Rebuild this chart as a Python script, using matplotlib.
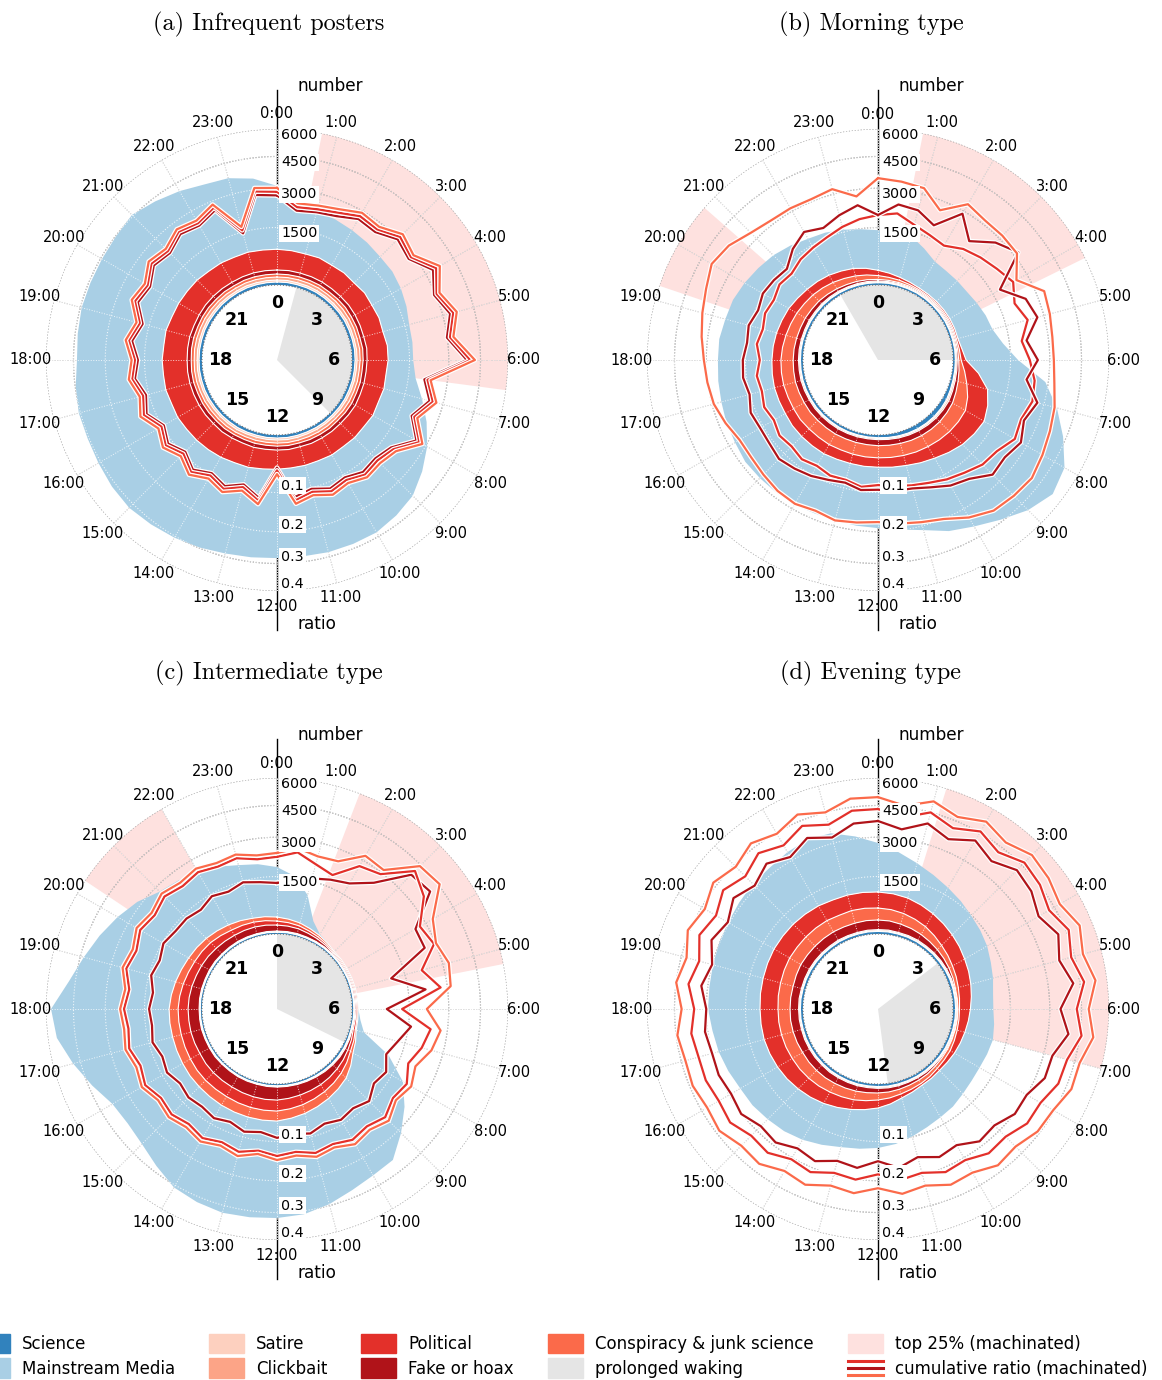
import numpy as np
import matplotlib.pyplot as plt
import matplotlib.patheffects as pe
from matplotlib.patches import Patch
from matplotlib.lines import Line2D
from matplotlib.legend_handler import HandlerBase

# half-hour bins over the day
hours = np.arange(48) * 0.5

# ---------------- (a) Infrequent posters ----------------
sci_a = [58, 60, 57, 59, 61, 58, 56, 59, 60, 57, 58, 62, 59, 57, 60, 58, 61, 59, 57, 60, 58, 56, 59, 61,
         58, 60, 57, 59, 62, 58, 60, 57, 59, 61, 58, 60, 57, 59, 58, 61, 59, 57, 60, 58, 59, 61, 58, 57]
sat_a = [39, 41, 38, 40, 37, 39, 41, 38, 40, 39, 37, 40, 41, 38, 39, 40, 38, 41, 39, 37, 40, 38, 39, 41,
         40, 38, 39, 37, 40, 41, 38, 39, 40, 38, 41, 39, 37, 40, 39, 38, 41, 40, 38, 39, 37, 40, 39, 41]
click_a = [62, 60, 64, 61, 63, 59, 62, 65, 60, 63, 61, 64, 62, 60, 63, 61, 65, 62, 59, 63, 61, 64, 60, 62,
           63, 61, 65, 62, 60, 64, 61, 63, 62, 60, 64, 62, 61, 63, 65, 60, 62, 64, 61, 63, 60, 62, 64, 61]
consp_a = [64, 62, 66, 63, 65, 61, 64, 67, 62, 65, 63, 66, 64, 62, 65, 63, 67, 64, 61, 65, 63, 66, 62, 64,
           65, 63, 67, 64, 62, 66, 63, 65, 64, 62, 66, 64, 63, 65, 67, 62, 64, 66, 63, 65, 62, 64, 66, 63]
fake_a = [88, 92, 85, 90, 87, 91, 86, 89, 93, 86, 88, 91, 87, 90, 85, 89, 92, 87, 90, 86, 88, 91, 85, 89,
          87, 90, 92, 86, 89, 91, 87, 90, 88, 92, 86, 89, 91, 87, 90, 88, 85, 89, 92, 87, 90, 86, 89, 91]
pol_a = [524, 507, 498, 515, 486, 503, 478, 506, 488, 514, 497, 526, 533, 505, 522, 496, 513, 487, 503, 476,
         494, 468, 483, 465, 482, 498, 524, 537, 565, 576, 604, 607, 634, 616, 645, 627, 642, 616, 633, 606,
         603, 585, 584, 556, 563, 537, 544, 526]
mm_a = [2268, 1571, 1464, 1377, 1321, 1236, 1182, 1126, 1063, 937, 842, 788, 778, 937, 1291, 1782,
        2235, 2702, 3116, 3332, 3470, 3490, 3480, 3441, 3431, 3460, 3491, 3623, 3705, 3789, 3873, 3811,
        3687, 3645, 3625, 3533, 3371, 3440, 3482, 3502, 3512, 3573, 3685, 3451, 3202, 2980, 2885, 2662]
rf_a = [0.180, 0.143, 0.149, 0.156, 0.175, 0.171, 0.197, 0.184, 0.225, 0.195, 0.222, 0.199,
        0.255, 0.138, 0.162, 0.131, 0.170, 0.126, 0.115, 0.120, 0.107, 0.115, 0.102, 0.113,
        0.050, 0.115, 0.092, 0.109, 0.096, 0.113, 0.094, 0.111, 0.096, 0.120, 0.107, 0.125,
        0.115, 0.132, 0.115, 0.143, 0.133, 0.155, 0.145, 0.164, 0.155, 0.173, 0.097, 0.185]
rp_a = [0.190, 0.152, 0.157, 0.166, 0.184, 0.180, 0.207, 0.192, 0.236, 0.203, 0.232, 0.208,
        0.266, 0.146, 0.171, 0.138, 0.179, 0.133, 0.122, 0.128, 0.114, 0.122, 0.109, 0.121,
        0.055, 0.122, 0.098, 0.116, 0.102, 0.120, 0.100, 0.118, 0.102, 0.127, 0.114, 0.132,
        0.122, 0.140, 0.122, 0.151, 0.140, 0.163, 0.152, 0.172, 0.162, 0.181, 0.104, 0.195]
rc_a = [0.201, 0.162, 0.167, 0.176, 0.195, 0.189, 0.218, 0.201, 0.249, 0.212, 0.243, 0.218,
        0.281, 0.154, 0.181, 0.146, 0.189, 0.141, 0.131, 0.136, 0.122, 0.131, 0.117, 0.129,
        0.062, 0.130, 0.106, 0.124, 0.110, 0.128, 0.108, 0.126, 0.110, 0.136, 0.122, 0.140,
        0.130, 0.148, 0.130, 0.160, 0.148, 0.172, 0.160, 0.180, 0.170, 0.190, 0.112, 0.205]
waking_a = (1.0, 9.0)
top_a = [(0.75, 6.5)]

# ---------------- (b) Morning type ----------------
sci_b = [44, 46, 45, 44, 46, 45, 44, 45, 46, 45, 44, 46, 45, 47, 50, 62, 80, 86, 90, 88, 85, 78, 70, 60,
         52, 50, 49, 51, 50, 48, 50, 51, 49, 50, 52, 50, 49, 51, 50, 48, 50, 49, 51, 50, 48, 47, 46, 45]
sat_b = [15, 14, 15, 16, 15, 14, 15, 15, 16, 15, 14, 15, 16, 18, 20, 22, 24, 23, 22, 21, 20, 19, 18, 17,
         17, 16, 17, 16, 17, 16, 17, 17, 16, 17, 16, 16, 17, 16, 16, 15, 16, 15, 16, 15, 15, 14, 15, 15]
click_b = [20, 19, 21, 20, 19, 20, 21, 19, 20, 21, 20, 19, 21, 23, 26, 28, 30, 29, 28, 27, 25, 24, 23, 22,
           22, 21, 22, 21, 22, 23, 21, 22, 21, 22, 23, 21, 22, 21, 20, 21, 22, 20, 21, 20, 21, 19, 20, 21]
fake_b = [30, 25, 20, 20, 21, 19, 20, 20, 21, 20, 20, 24, 30, 45, 60, 75, 90, 100, 110, 116, 120, 122, 120, 123,
          125, 122, 120, 118, 121, 120, 119, 122, 120, 118, 120, 115, 110, 106, 100, 95, 90, 85, 80, 70, 60, 52, 45, 37]
consp_b = [80, 62, 50, 35, 25, 24, 25, 26, 25, 24, 25, 35, 50, 120, 200, 290, 350, 345, 330, 315, 300, 295, 290, 285,
           280, 284, 280, 276, 282, 279, 280, 285, 281, 277, 280, 283, 280, 265, 250, 236, 220, 205, 190, 176, 160, 140, 120, 100]
pol_b = [116, 90, 60, 45, 32, 30, 28, 30, 29, 31, 30, 55, 106, 330, 553, 590, 609, 560, 508, 430, 358, 310, 271, 255,
         242, 245, 247, 262, 274, 276, 274, 260, 247, 250, 247, 238, 230, 238, 244, 236, 231, 212, 195, 198, 195, 186, 177, 150]
mm_b = [1106, 1135, 1151, 943, 760, 722, 717, 717, 773, 845, 905, 1098, 1491, 2290, 2697, 3271,
        3939, 4246, 3869, 3391, 3028, 2755, 2400, 2208, 2108, 2066, 2025, 2012, 2039, 2039, 2039, 2053,
        1983, 1942, 1860, 1833, 1806, 1819, 1752, 1739, 1648, 1571, 1496, 1374, 1257, 1224, 1157, 1113]
rf_b = [0.129, 0.159, 0.154, 0.131, 0.192, 0.141, 0.184, 0.215, 0.119, 0.167, 0.181, 0.141,
        0.167, 0.141, 0.181, 0.162, 0.181, 0.167, 0.173, 0.141, 0.129, 0.112, 0.101, 0.099,
        0.094, 0.097, 0.088, 0.094, 0.103, 0.110, 0.117, 0.110, 0.108, 0.112, 0.101, 0.108,
        0.106, 0.099, 0.103, 0.094, 0.101, 0.097, 0.092, 0.117, 0.136, 0.124, 0.141, 0.157]
rp_b = [0.129, 0.136, 0.117, 0.106, 0.099, 0.117, 0.129, 0.141, 0.157, 0.136, 0.154, 0.129,
        0.146, 0.162, 0.167, 0.154, 0.162, 0.141, 0.136, 0.122, 0.112, 0.101, 0.094, 0.088,
        0.084, 0.090, 0.082, 0.084, 0.078, 0.084, 0.078, 0.082, 0.074, 0.080, 0.074, 0.078,
        0.070, 0.078, 0.072, 0.078, 0.074, 0.082, 0.078, 0.088, 0.094, 0.101, 0.112, 0.122]
rc_b = [0.230, 0.224, 0.218, 0.173, 0.224, 0.212, 0.212, 0.210, 0.167, 0.224, 0.218, 0.212,
        0.212, 0.218, 0.233, 0.243, 0.255, 0.268, 0.262, 0.255, 0.230, 0.201, 0.189, 0.181,
        0.173, 0.178, 0.184, 0.176, 0.184, 0.181, 0.173, 0.167, 0.167, 0.181, 0.195, 0.201,
        0.207, 0.218, 0.230, 0.243, 0.262, 0.249, 0.224, 0.212, 0.210, 0.207, 0.215, 0.181]
waking_b = (22.0, 30.0)
top_b = [(0.75, 4.25), (19.25, 20.75)]

# ---------------- (c) Intermediate type ----------------
sci_c = [34, 36, 35, 33, 35, 36, 34, 35, 33, 36, 35, 34, 36, 35, 34, 40, 44, 46, 45, 43, 40, 38, 37, 36,
         35, 36, 34, 35, 36, 34, 35, 37, 35, 34, 36, 35, 34, 36, 35, 33, 35, 36, 34, 35, 36, 34, 35, 36]
sat_c = [10, 11, 10, 9, 10, 11, 10, 10, 9, 10, 11, 10, 10, 9, 10, 12, 13, 14, 13, 12, 11, 11, 10, 10,
         11, 10, 10, 11, 10, 9, 10, 11, 10, 10, 11, 10, 9, 10, 11, 10, 10, 11, 10, 9, 10, 11, 10, 10]
click_c = [13, 12, 14, 13, 12, 13, 14, 12, 13, 14, 13, 12, 13, 14, 13, 16, 18, 19, 18, 17, 15, 14, 14, 13,
           14, 13, 12, 13, 14, 13, 12, 14, 13, 13, 14, 12, 13, 14, 13, 12, 14, 13, 12, 13, 14, 13, 12, 13]
fake_c = [122, 112, 101, 80, 60, 40, 20, 21, 20, 19, 20, 21, 20, 19, 20, 40, 60, 90, 122, 155, 186, 208, 231, 255,
          276, 278, 276, 264, 253, 255, 253, 242, 231, 233, 231, 229, 231, 220, 208, 197, 186, 175, 165, 154, 143, 145, 143, 133]
pol_c = [86, 75, 64, 52, 41, 30, 20, 21, 20, 19, 20, 21, 20, 30, 41, 52, 62, 96, 131, 157, 183, 210, 236, 252,
         267, 265, 267, 266, 264, 262, 264, 263, 261, 248, 236, 238, 236, 223, 210, 196, 183, 182, 181, 157, 133, 121, 110, 98]
consp_c = [91, 78, 66, 54, 42, 31, 21, 22, 21, 20, 21, 22, 21, 20, 20, 42, 64, 115, 165, 182, 199, 216, 234, 251,
           269, 270, 269, 268, 267, 253, 239, 238, 236, 235, 234, 236, 234, 218, 203, 188, 174, 160, 146, 144, 142, 118, 93, 92]
mm_c = [1470, 1230, 754, 187, 22, 9, 5, 4, 4, 5, 4, 4, 5, 55, 173, 923,
        1692, 2161, 2666, 3280, 3300, 3432, 3663, 3864, 3913, 3966, 4019, 3928, 3785, 3393, 3064, 2935,
        3044, 3549, 4130, 4729, 4954, 4116, 3642, 3286, 2947, 2611, 2207, 2079, 1955, 1834, 1679, 1592]
rf_c = [0.086, 0.095, 0.106, 0.117, 0.129, 0.165, 0.255, 0.265, 0.167, 0.167, 0.070, 0.141,
        0.054, 0.106, 0.084, 0.070, 0.086, 0.078, 0.095, 0.084, 0.090, 0.082, 0.092, 0.086,
        0.092, 0.082, 0.088, 0.078, 0.086, 0.080, 0.084, 0.078, 0.088, 0.082, 0.092, 0.086,
        0.090, 0.084, 0.095, 0.088, 0.097, 0.090, 0.090, 0.084, 0.095, 0.088, 0.097, 0.090]
rp_c = [0.147, 0.162, 0.141, 0.129, 0.181, 0.195, 0.272, 0.240, 0.181, 0.195, 0.141, 0.181,
        0.084, 0.154, 0.141, 0.122, 0.141, 0.132, 0.149, 0.136, 0.144, 0.132, 0.139, 0.127,
        0.134, 0.124, 0.136, 0.127, 0.139, 0.129, 0.139, 0.132, 0.147, 0.136, 0.149, 0.141,
        0.149, 0.139, 0.157, 0.147, 0.162, 0.152, 0.165, 0.154, 0.162, 0.152, 0.157, 0.144]
rc_c = [0.157, 0.173, 0.162, 0.167, 0.215, 0.210, 0.295, 0.305, 0.224, 0.201, 0.218, 0.210,
        0.141, 0.181, 0.167, 0.141, 0.154, 0.141, 0.162, 0.147, 0.157, 0.141, 0.149, 0.136,
        0.144, 0.132, 0.147, 0.136, 0.149, 0.139, 0.149, 0.141, 0.157, 0.147, 0.159, 0.152,
        0.159, 0.149, 0.167, 0.157, 0.173, 0.162, 0.176, 0.165, 0.173, 0.162, 0.167, 0.154]
waking_c = (0.0, 7.75)
top_c = [(1.4, 5.25), (20.25, 22.0)]

# ---------------- (d) Evening type ----------------
sci_d = [50, 52, 49, 51, 50, 48, 51, 49, 50, 52, 50, 49, 51, 50, 48, 50, 52, 51, 49, 50, 51, 49, 50, 52,
         50, 48, 51, 50, 49, 52, 50, 51, 49, 50, 48, 51, 50, 52, 49, 50, 51, 49, 50, 48, 51, 50, 49, 52]
sat_d = [15, 16, 14, 15, 16, 15, 14, 15, 16, 15, 14, 15, 16, 15, 15, 14, 16, 15, 15, 16, 14, 15, 16, 15,
         15, 14, 16, 15, 15, 16, 14, 15, 15, 16, 15, 14, 15, 16, 15, 15, 14, 16, 15, 15, 16, 14, 15, 15]
click_d = [20, 21, 19, 20, 21, 20, 19, 21, 20, 19, 21, 20, 20, 19, 21, 20, 21, 19, 20, 21, 20, 19, 20, 21,
           20, 21, 19, 20, 21, 20, 19, 20, 21, 20, 19, 21, 20, 21, 19, 20, 21, 20, 19, 20, 21, 20, 19, 20]
fake_d = [204, 195, 181, 160, 138, 117, 95, 74, 53, 34, 15, 12, 10, 11, 12, 14, 15, 24, 33, 43, 53, 63, 74, 85,
          95, 106, 116, 127, 138, 148, 159, 160, 159, 170, 181, 183, 181, 178, 181, 192, 204, 201, 204, 206, 204, 202, 204, 205]
consp_d = [286, 272, 259, 231, 204, 168, 131, 108, 85, 73, 62, 46, 31, 36, 41, 52, 62, 60, 62, 74, 85, 96, 107, 131,
           154, 179, 203, 215, 228, 242, 256, 270, 281, 283, 284, 282, 284, 297, 309, 311, 312, 310, 312, 314, 312, 300, 312, 298]
pol_d = [439, 434, 430, 408, 387, 377, 368, 348, 327, 310, 292, 265, 239, 206, 173, 140, 107, 85, 64, 52, 43, 67, 91, 141,
         191, 220, 248, 292, 335, 366, 398, 430, 459, 476, 493, 490, 493, 496, 498, 500, 502, 505, 502, 487, 472, 457, 442, 440]
mm_d = [1743, 1446, 1204, 1051, 943, 873, 804, 770, 738, 664, 622, 579, 598, 680, 762, 755,
        748, 788, 859, 940, 991, 1042, 1126, 1178, 1196, 1202, 1211, 1289, 1373, 1432, 1454, 1491,
        1487, 1578, 1672, 1755, 1882, 1867, 1895, 1923, 1952, 2039, 2128, 2187, 2338, 2490, 2413, 2070]
rf_d = [0.249, 0.228, 0.262, 0.236, 0.270, 0.244, 0.276, 0.266, 0.241, 0.272, 0.248, 0.278,
        0.232, 0.262, 0.226, 0.226, 0.200, 0.202, 0.180, 0.186, 0.160, 0.168, 0.150, 0.168,
        0.147, 0.168, 0.160, 0.180, 0.170, 0.190, 0.183, 0.202, 0.194, 0.202, 0.200, 0.208,
        0.200, 0.219, 0.200, 0.225, 0.205, 0.231, 0.208, 0.234, 0.211, 0.240, 0.217, 0.246]
rp_d = [0.288, 0.266, 0.300, 0.274, 0.305, 0.280, 0.312, 0.302, 0.280, 0.310, 0.288, 0.315,
        0.284, 0.306, 0.274, 0.272, 0.248, 0.249, 0.226, 0.230, 0.208, 0.214, 0.194, 0.202,
        0.182, 0.201, 0.194, 0.214, 0.205, 0.228, 0.222, 0.244, 0.236, 0.244, 0.242, 0.250,
        0.236, 0.259, 0.240, 0.266, 0.246, 0.272, 0.248, 0.276, 0.252, 0.282, 0.258, 0.288]
rc_d = [0.329, 0.305, 0.340, 0.315, 0.345, 0.322, 0.350, 0.340, 0.322, 0.352, 0.330, 0.356,
        0.325, 0.348, 0.318, 0.320, 0.296, 0.292, 0.270, 0.278, 0.252, 0.256, 0.233, 0.244,
        0.222, 0.242, 0.233, 0.256, 0.246, 0.272, 0.266, 0.288, 0.279, 0.290, 0.286, 0.296,
        0.276, 0.300, 0.282, 0.308, 0.288, 0.314, 0.292, 0.318, 0.296, 0.324, 0.300, 0.330]
waking_d = (3.5, 11.5)
top_d = [(1.15, 7.0)]

num_ticks = [1500, 3000, 4500, 6000]
ratio_ticks = [0.1, 0.2, 0.3, 0.4]

C = {'sci': '#3182bd', 'mm': '#a9cfe5', 'sat': '#fdd0bf', 'click': '#fca487',
     'pol': '#e3302a', 'fake': '#b01319', 'consp': '#fb6a4a'}
WAKE = '#e5e5e5'
TOP = '#fee1df'

# area-true radial scale: r^2 grows linearly with the count, zero sits on the clock face
N0 = 707.0
def rad(n):
    return np.sqrt(np.asarray(n, dtype=float) + N0)

R0 = rad(0)
RMAX = rad(6000)
unit = RMAX / 231.0      # radial units per pixel


def ratio_r(q):
    return rad(np.asarray(q) * 15000)


def draw_panel(ax, layers, order, lines, waking, top):
    ax.set_theta_zero_location('N')
    ax.set_theta_direction(-1)
    ax.set_ylim(0, RMAX)
    ax.set_xticks([])
    ax.set_yticks([])
    ax.grid(False)
    ax.spines['polar'].set_visible(False)

    th = np.r_[hours, 24.0] * np.pi / 12
    full = np.linspace(0, 2 * np.pi, 400)

    # vertical scale axis
    for a in (0, np.pi):
        ax.plot([a, a], [R0, 270 * unit], color='k', lw=1.0, zorder=0.5, clip_on=False)

    for h0, h1 in top:
        t = np.linspace(h0, h1, 60) * np.pi / 12
        ax.fill(np.r_[t, t[::-1]], np.r_[np.full(60, RMAX), np.full(60, R0)],
                color=TOP, lw=0, zorder=1)

    # grid below the areas
    for v in num_ticks:
        ax.plot(full, np.full_like(full, rad(v)), ls=':', color='0.3', lw=0.8, zorder=1.2)
    for h in range(24):
        ax.plot([h * np.pi / 12] * 2, [R0, RMAX], ls=':', color='0.6', lw=0.7, zorder=1.2)

    cum = np.zeros(len(hours))
    for key in order:
        lo = np.r_[cum, cum[0]]
        cum = cum + np.asarray(layers[key])
        hi = np.r_[cum, cum[0]]
        ax.fill(np.r_[th, th[::-1]], np.r_[rad(hi), rad(lo)[::-1]],
                color=C[key], lw=0, zorder=2)
        if key != 'mm':
            ax.plot(th, rad(hi), color='white', lw=0.8, zorder=2.1)

    # grid repeated on top of the areas
    for v in num_ticks:
        ax.plot(full, np.full_like(full, rad(v)), ls=':', color='white', lw=0.8,
                alpha=0.8, zorder=2.2)
    for h in range(24):
        ax.plot([h * np.pi / 12] * 2, [R0, RMAX], ls=':', color='white', lw=0.7,
                alpha=0.8, zorder=2.2)

    for key, q in lines:
        ax.plot(th, ratio_r(np.r_[q, q[0]]), color=C[key], lw=1.6, zorder=3,
                path_effects=[pe.Stroke(linewidth=3.4, foreground='white'), pe.Normal()])

    # clock face
    ax.fill(full, np.full_like(full, R0), color='white', lw=0, zorder=4)
    w0, w1 = waking
    t = np.linspace(w0, w1, 80) * np.pi / 12
    ax.fill(np.r_[t[0], t, t[-1]], np.r_[0, np.full(80, R0), 0], color=WAKE, lw=0, zorder=4.1)
    ax.plot(full, np.full_like(full, R0), ls=':', color='0.45', lw=0.8, zorder=4.5)
    for h in range(0, 24, 3):
        ax.text(h * np.pi / 12, 57 * unit, str(h), ha='center', va='center',
                fontsize=12.5, fontweight='bold', zorder=5)

    for h in range(24):
        ax.text(h * np.pi / 12, 246 * unit, f'{h}:00', ha='center', va='center', fontsize=10.5)

    box = dict(boxstyle='square,pad=0.12', fc='white', ec='none')
    for v in num_ticks:
        ax.annotate(str(v), xy=(0, rad(v) - 6 * unit), xytext=(3, 0), textcoords='offset points',
                    ha='left', va='center', fontsize=10.3, bbox=box, zorder=6)
    for q in ratio_ticks:
        ax.annotate(f'{q:.1f}', xy=(np.pi, ratio_r(q) - 7 * unit), xytext=(3, 0),
                    textcoords='offset points', ha='left', va='center', fontsize=10.3,
                    bbox=box, zorder=6)
    ax.annotate('number', xy=(0, 274 * unit), xytext=(15, 0), textcoords='offset points',
                ha='left', va='center', fontsize=12.2, annotation_clip=False)
    ax.annotate('ratio', xy=(np.pi, 264 * unit), xytext=(15, 0), textcoords='offset points',
                ha='left', va='center', fontsize=12.2, annotation_clip=False)


class RatioHandler(HandlerBase):
    def create_artists(self, legend, orig_handle, xdescent, ydescent, width, height,
                       fontsize, trans):
        x0, y0 = -xdescent, -ydescent
        out = []
        for key, frac in (('pol', 0.85), ('fake', 0.5), ('consp', 0.15)):
            y = y0 + height * frac
            out.append(Line2D([x0, x0 + width], [y, y], color=C[key], lw=2.2, transform=trans))
        return out


fig = plt.figure(figsize=(11.62, 13.8), dpi=100)
W, H = 1162.0, 1380.0
panels = [
    ('(a) Infrequent posters', 277, 360, 269,
     dict(sci=sci_a, sat=sat_a, click=click_a, consp=consp_a, fake=fake_a, pol=pol_a, mm=mm_a),
     ['sci', 'sat', 'click', 'consp', 'fake', 'pol', 'mm'],
     [('fake', rf_a), ('pol', rp_a), ('consp', rc_a)], waking_a, top_a),
    ('(b) Morning type', 878, 360, 871,
     dict(sci=sci_b, sat=sat_b, click=click_b, consp=consp_b, fake=fake_b, pol=pol_b, mm=mm_b),
     ['sci', 'sat', 'click', 'fake', 'consp', 'pol', 'mm'],
     [('pol', rp_b), ('fake', rf_b), ('consp', rc_b)], waking_b, top_b),
    ('(c) Intermediate type', 277, 1009, 269,
     dict(sci=sci_c, sat=sat_c, click=click_c, consp=consp_c, fake=fake_c, pol=pol_c, mm=mm_c),
     ['sci', 'sat', 'click', 'fake', 'pol', 'consp', 'mm'],
     [('fake', rf_c), ('pol', rp_c), ('consp', rc_c)], waking_c, top_c),
    ('(d) Evening type', 878, 1009, 871,
     dict(sci=sci_d, sat=sat_d, click=click_d, consp=consp_d, fake=fake_d, pol=pol_d, mm=mm_d),
     ['sci', 'sat', 'click', 'fake', 'consp', 'pol', 'mm'],
     [('fake', rf_d), ('pol', rp_d), ('consp', rc_d)], waking_d, top_d),
]

for title, cx, cy, tx, layers, order, lines, waking, top in panels:
    ax = fig.add_axes([(cx - 231) / W, 1 - (cy + 231) / H, 462 / W, 462 / H], projection='polar')
    draw_panel(ax, layers, order, lines, waking, top)
    fig.text(tx / W, 1 - (cy - 336) / H, title, ha='center', va='center',
             fontsize=17.5, family='cmr10')

handles = [Patch(color=C['sci']), Patch(color=C['mm']), Patch(color=C['sat']),
           Patch(color=C['click']), Patch(color=C['pol']), Patch(color=C['fake']),
           Patch(color=C['consp']), Patch(color=WAKE), Patch(color=TOP), Line2D([], [])]
labels = ['Science', 'Mainstream Media', 'Satire', 'Clickbait', 'Political', 'Fake or hoax',
          'Conspiracy & junk science', 'prolonged waking', 'top 25% (machinated)',
          'cumulative ratio (machinated)']
fig.legend(handles, labels, ncol=5, loc='center left', bbox_to_anchor=(-0.0273, 0.0174),
           frameon=False, fontsize=12, handlelength=2.1, handleheight=1.4,
           handletextpad=0.72, columnspacing=2.04, labelspacing=0.3, borderaxespad=0,
           handler_map={handles[-1]: RatioHandler()})

fig.savefig('out.png', dpi=100, facecolor='white')
